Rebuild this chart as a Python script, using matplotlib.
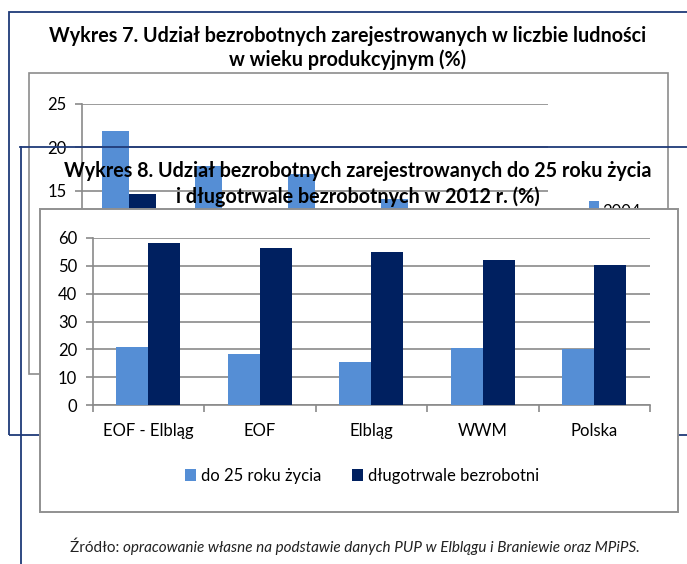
import matplotlib
matplotlib.use("Agg")
import matplotlib.pyplot as plt
from matplotlib.patches import Rectangle
from matplotlib.lines import Line2D
import numpy as np

plt.rcParams['font.family'] = ['Lato', 'DejaVu Sans']

# ---- data ----
categories = ["EOF - Elbląg", "EOF", "Elbląg", "WWM", "Polska"]
# Chart 8 (front)
young = [21.0, 18.2, 15.3, 20.3, 20.0]
longterm = [58.2, 56.5, 54.9, 52.2, 50.3]
series8 = ["do 25 roku życia", "długotrwale bezrobotni"]
yticks8 = [0, 10, 20, 30, 40, 50, 60]
# Chart 7 (behind, partly hidden)
share_2004 = [21.9, 17.85, 16.9, 14.0, 12.5]
share_2012 = [14.6, 12.0, 11.5, 11.0, 10.5]
yticks7 = [15, 20, 25]  # only the visible ticks of the hidden chart

LIGHT = "#558ED5"
DARK = "#002060"
FRAME = "#1F3A78"
GRAY = "#8C8C8C"
GRID = "#8A8A8A"

W, H = 687, 564
fig = plt.figure(figsize=(W / 100, H / 100), dpi=100)
fig.patch.set_facecolor("white")


def fx(x):
    return x / W


def fy(y):
    return 1 - y / H


def rect(x0, y0, x1, y1, ec, fc="none", lw=1.0, z=1):
    r = Rectangle((fx(x0), fy(y1)), fx(x1) - fx(x0), fy(y0) - fy(y1),
                  transform=fig.transFigure, ec=ec, fc=fc, lw=lw, zorder=z)
    fig.add_artist(r)


def hline(x0, x1, y, color, lw=1.0, z=1):
    fig.add_artist(Line2D([fx(x0), fx(x1)], [fy(y), fy(y)], transform=fig.transFigure,
                          color=color, lw=lw, zorder=z))


def vline(x, y0, y1, color, lw=1.0, z=1):
    fig.add_artist(Line2D([fx(x), fx(x)], [fy(y0), fy(y1)], transform=fig.transFigure,
                          color=color, lw=lw, zorder=z))


TITLE_FS = 14.2

# ---- Chart 7 (background) ----
rect(8.5, 12, 700, 434.5, FRAME, lw=1.3, z=1)
fig.text(fx(348), fy(36), "Wykres 7. Udział bezrobotnych zarejestrowanych w liczbie ludności",
         ha="center", va="center", fontsize=TITLE_FS, fontweight="bold", color="black", zorder=1)
fig.text(fx(348), fy(60), "w wieku produkcyjnym (%)",
         ha="center", va="center", fontsize=TITLE_FS, fontweight="bold", color="black", zorder=1)
rect(28.5, 73, 668, 373.5, GRAY, lw=1.2, z=1)

ax7 = fig.add_axes([fx(82), fy(320.7), fx(548) - fx(82), fy(104) - fy(320.7)], zorder=2)
ax7.set_facecolor("none")
x7 = np.arange(len(categories))
bw7 = 0.29
ax7.bar(x7 - bw7 / 2, share_2004, bw7, color=LIGHT, zorder=3)
ax7.bar(x7 + bw7 / 2, share_2012, bw7, color=DARK, zorder=3)
ax7.set_xlim(-0.5, len(categories) - 0.5)
ax7.set_ylim(0, 25)
ax7.set_yticks(yticks7)
ax7.set_yticklabels([str(v) for v in yticks7], fontsize=12)
ax7.yaxis.grid(True, color=GRID, lw=1.2)
ax7.set_axisbelow(True)
for s in ["top", "right", "bottom"]:
    ax7.spines[s].set_visible(False)
ax7.spines["left"].set_color(GRID)
ax7.spines["left"].set_linewidth(1.2)
ax7.tick_params(axis="y", colors=GRID, length=5, width=1.2, labelcolor="black", pad=6)
ax7.set_xticks([])
# chart 7 legend (partly hidden)
rect(589, 201, 599, 211, "none", fc=LIGHT, lw=0, z=2)
fig.text(fx(602), fy(212), "2004", ha="left", va="center", fontsize=12, color="black", zorder=2)

# ---- Chart 8 (front) ----
hline(20, 700, 146.5, FRAME, lw=1.3, z=3)
vline(20.5, 146.5, 600, FRAME, lw=1.3, z=3)
fig.text(fx(358), fy(171), "Wykres 8. Udział bezrobotnych zarejestrowanych do 25 roku życia",
         ha="center", va="center", fontsize=TITLE_FS, fontweight="bold", color="black", zorder=4)
fig.text(fx(358), fy(197), "i długotrwale bezrobotnych w 2012 r. (%)",
         ha="center", va="center", fontsize=TITLE_FS, fontweight="bold", color="black", zorder=4)

rect(40, 208.5, 678, 512, "#909090", fc="white", lw=1.4, z=5)

ax8 = fig.add_axes([fx(92.5), fy(405), fx(650) - fx(92.5), fy(238) - fy(405)], zorder=6)
ax8.set_facecolor("none")
x8 = np.arange(len(categories))
bw8 = 0.285
ax8.bar(x8 - bw8 / 2, young, bw8, color=LIGHT, zorder=3, label=series8[0])
ax8.bar(x8 + bw8 / 2, longterm, bw8, color=DARK, zorder=3, label=series8[1])
ax8.set_xlim(-0.5, len(categories) - 0.5)
ax8.set_ylim(0, 60)
ax8.set_yticks(yticks8)
ax8.set_yticklabels([str(v) for v in yticks8], fontsize=12)
ax8.yaxis.grid(True, color=GRID, lw=1.2)
ax8.set_axisbelow(True)
for s in ["top", "right"]:
    ax8.spines[s].set_visible(False)
for s in ["left", "bottom"]:
    ax8.spines[s].set_color(GRID)
    ax8.spines[s].set_linewidth(1.2)
ax8.tick_params(axis="y", colors=GRID, length=5, width=1.2, labelcolor="black", pad=6)
ax8.set_xticks(x8)
ax8.set_xticklabels(categories, fontsize=12)
ax8.set_xticks(np.arange(len(categories) + 1) - 0.5, minor=True)
ax8.tick_params(axis="x", which="major", length=0, pad=13, labelcolor="black")
ax8.tick_params(axis="x", which="minor", length=5, width=1.2, colors=GRID)

leg = ax8.legend(loc="center", bbox_to_anchor=(fx(362), fy(476)), bbox_transform=fig.transFigure,
                 ncol=2, frameon=False, fontsize=12, handlelength=0.7, handleheight=0.7,
                 handletextpad=0.3, columnspacing=1.8)

t_src = fig.text(fx(70), fy(548), "Źródło: ", ha="left", va="center", fontsize=11,
                 color="#222222", zorder=7)
ax8.annotate("opracowanie własne na podstawie danych PUP w Elblągu i Braniewie oraz MPiPS.",
             xy=(1, 0.5), xycoords=t_src, ha="left", va="center", fontsize=11,
             style="italic", color="#222222", annotation_clip=False)

fig.savefig("out.png", dpi=100, facecolor="white")
